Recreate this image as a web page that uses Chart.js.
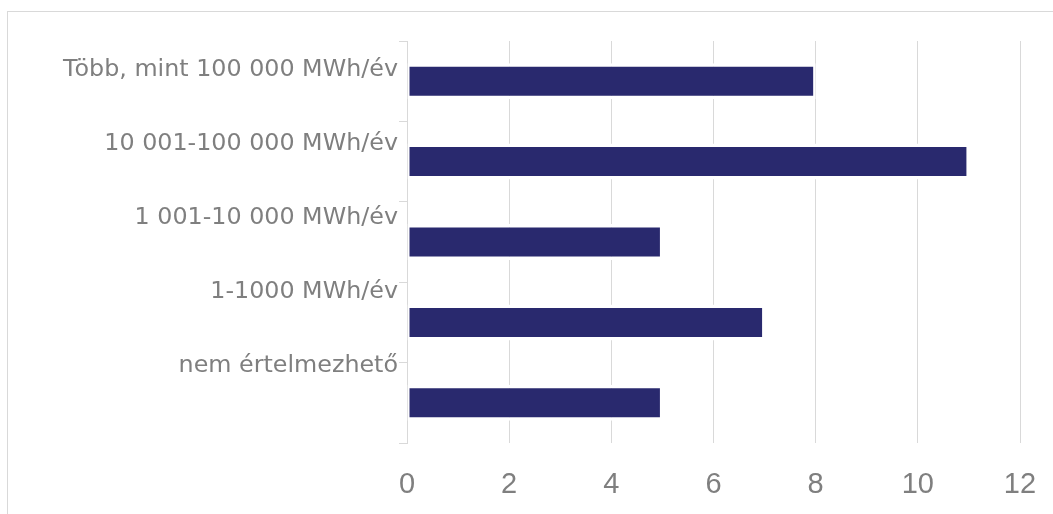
<!DOCTYPE html>
<html>
<head>
<meta charset="utf-8">
<script src="https://cdn.jsdelivr.net/npm/chart.js@4/dist/chart.umd.min.js"></script>
<style>
  html, body { margin: 0; padding: 0; background: #fff; }
  #frame {
    position: absolute; left: 7px; top: 11px;
    width: 1100px; height: 560px;
    border: 1px solid #d9d9d9; box-sizing: border-box;
  }
  #c { position: absolute; left: 0; top: 0; }
</style>
</head>
<body>
<div id="frame"></div>
<canvas id="c" width="1053" height="514"></canvas>
<script>
// Energy consumption bands (top to bottom) and number of respondents
const categories = [
  'Több, mint 100 000 MWh/év',
  '10 001-100 000 MWh/év',
  '1 001-10 000 MWh/év',
  '1-1000 MWh/év',
  'nem értelmezhető'
];
const counts = [8, 11, 5, 7, 5];
const xTicks = [0, 2, 4, 6, 8, 10, 12];

const grey = '#7f7f7f';
const lineGrey = '#d9d9d9';
const barColor = '#29296e';

// Category labels sit a little above each bar, spread slightly tighter than the bands
const labelStart = 0.36;
const labelStep = 0.92;

new Chart(document.getElementById('c'), {
  type: 'bar',
  data: {
    labels: categories,
    datasets: [{
      data: counts,
      yAxisID: 'y',
      backgroundColor: barColor,
      borderColor: '#ffffff',
      borderWidth: { top: 3.5, bottom: 3.5, left: 2, right: 2.5 },
      borderSkipped: false,
      barPercentage: 0.448,
      categoryPercentage: 1
    }]
  },
  options: {
    indexAxis: 'y',
    responsive: false,
    devicePixelRatio: 1,
    animation: false,
    layout: { padding: { left: 0, top: 41, right: 33, bottom: 0 } },
    plugins: { legend: { display: false }, tooltip: { enabled: false } },
    scales: {
      x: {
        type: 'linear',
        min: xTicks[0],
        max: xTicks[xTicks.length - 1],
        afterBuildTicks: (axis) => { axis.ticks = xTicks.map(v => ({ value: v })); },
        grid: { color: lineGrey, lineWidth: 1, drawTicks: false },
        border: { display: false },
        ticks: {
          color: grey,
          padding: 25,
          font: { family: "'Liberation Sans', sans-serif", size: 29 }
        },
        afterFit: (scale) => {
          scale.height = 71;
          scale.paddingLeft = 0;
          scale.paddingRight = 0;
        }
      },
      y: {
        type: 'category',
        position: 'left',
        weight: 0,
        z: 1,
        offset: true,
        grid: {
          offset: true,
          drawOnChartArea: false,
          drawTicks: true,
          tickLength: 8,
          color: lineGrey,
          lineWidth: 1
        },
        border: { display: true, color: lineGrey, width: 1 },
        ticks: { display: false },
        afterFit: (scale) => { scale.width = 8; }
      },
      yl: {
        type: 'linear',
        position: 'left',
        weight: 1,
        offset: false,
        reverse: true,
        min: 0,
        max: categories.length,
        afterBuildTicks: (axis) => {
          axis.ticks = categories.map((c, i) => ({ value: labelStart + labelStep * i }));
        },
        grid: { display: false, drawTicks: false, offset: false },
        border: { display: false },
        ticks: {
          autoSkip: false,
          padding: 1,
          color: grey,
          font: { family: "'DejaVu Sans', sans-serif", size: 23.8 },
          callback: (value, index) => categories[index]
        },
        afterFit: (scale) => {
          scale.width = 399;
          scale.paddingTop = 0;
          scale.paddingBottom = 0;
        }
      }
    }
  }
});
</script>
</body>
</html>
